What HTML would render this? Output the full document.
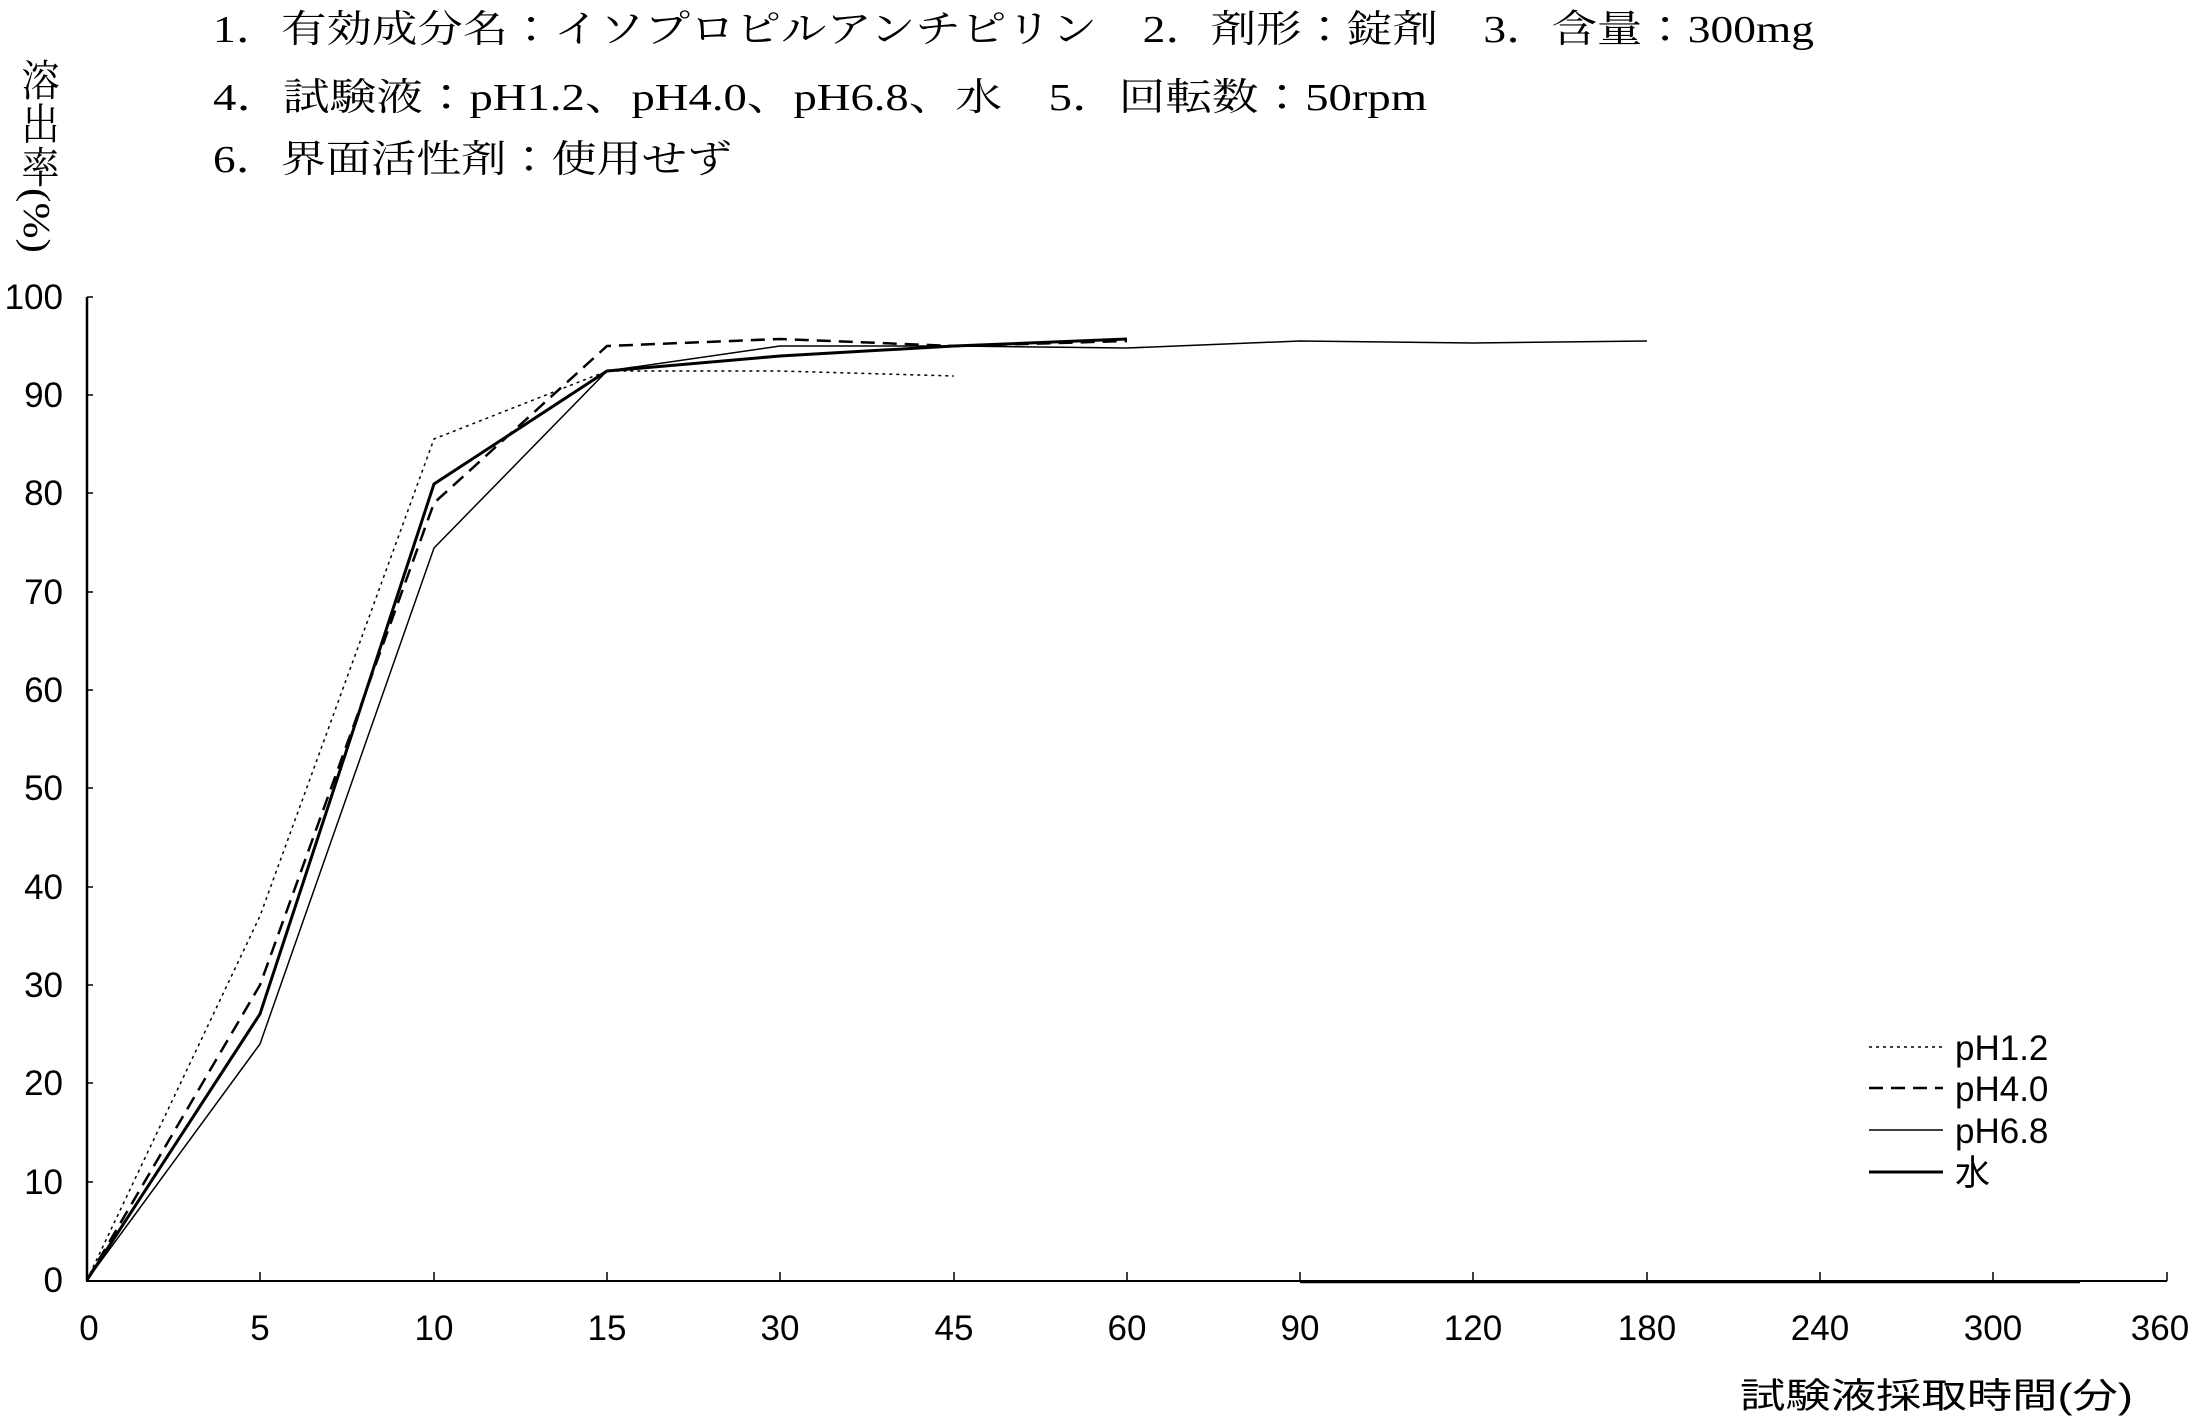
<!DOCTYPE html>
<html><head><meta charset="utf-8"><style>
html,body{margin:0;padding:0;background:#fff;}
svg{display:block;}
text{fill:#000;}
.s{font-family:"Liberation Serif","Noto Serif CJK JP","Noto Serif CJK SC",serif;font-size:38px;}
.a{font-family:"Liberation Sans","Noto Sans CJK JP",sans-serif;font-size:35px;}
</style></head><body>
<svg width="2200" height="1417" viewBox="0 0 2200 1417" xmlns="http://www.w3.org/2000/svg">
<text class="s" x="213" y="42" textLength="1601" lengthAdjust="spacingAndGlyphs">1．有効成分名：イソプロピルアンチピリン　2．剤形：錠剤　3．含量：300mg</text>
<text class="s" x="213" y="110" textLength="1214" lengthAdjust="spacingAndGlyphs">4．試験液：pH1.2、pH4.0、pH6.8、水　5．回転数：50rpm</text>
<text class="s" x="213" y="172" textLength="519" lengthAdjust="spacingAndGlyphs">6．界面活性剤：使用せず</text>
<text class="s" x="36" y="58" style="writing-mode:tb;glyph-orientation-vertical:0" textLength="195" lengthAdjust="spacingAndGlyphs">溶出率(%)</text>
<g stroke="#000" fill="none">
<line x1="87" y1="297" x2="87" y2="1281" stroke-width="2.5"/>
<line x1="86" y1="1281" x2="2167" y2="1281" stroke-width="2"/>
<line x1="1300" y1="1282" x2="2080" y2="1282" stroke-width="2.5"/>
<g stroke-width="1.5">
<line x1="87" y1="297" x2="93" y2="297"/><line x1="87" y1="395" x2="93" y2="395"/><line x1="87" y1="493" x2="93" y2="493"/><line x1="87" y1="592" x2="93" y2="592"/><line x1="87" y1="690" x2="93" y2="690"/><line x1="87" y1="788" x2="93" y2="788"/><line x1="87" y1="887" x2="93" y2="887"/><line x1="87" y1="985" x2="93" y2="985"/><line x1="87" y1="1083" x2="93" y2="1083"/><line x1="87" y1="1182" x2="93" y2="1182"/>
<line x1="260" y1="1281" x2="260" y2="1272"/><line x1="434" y1="1281" x2="434" y2="1272"/><line x1="607" y1="1281" x2="607" y2="1272"/><line x1="780" y1="1281" x2="780" y2="1272"/><line x1="954" y1="1281" x2="954" y2="1272"/><line x1="1127" y1="1281" x2="1127" y2="1272"/><line x1="1300" y1="1281" x2="1300" y2="1272"/><line x1="1473" y1="1281" x2="1473" y2="1272"/><line x1="1647" y1="1281" x2="1647" y2="1272"/><line x1="1820" y1="1281" x2="1820" y2="1272"/><line x1="1993" y1="1281" x2="1993" y2="1272"/><line x1="2167" y1="1281" x2="2167" y2="1272"/>
</g>
<!-- pH1.2 dotted -->
<polyline stroke-width="1.5" stroke-dasharray="3,4" points="87,1280 260,916 434,439 607,371 780,371 954,376"/>
<!-- pH4.0 dashed -->
<polyline stroke-width="2.5" stroke-dasharray="14,8" points="87,1280 260,985 434,503 607,346 780,339 954,346 1127,341"/>
<!-- pH6.8 thin -->
<polyline stroke-width="1.5" points="87,1280 260,1044 434,548 607,371 780,346 954,346 1127,348 1300,341 1473,343 1647,341"/>
<!-- water thick -->
<polyline stroke-width="3" points="87,1280 260,1014 434,484 607,371 780,356 954,346 1127,339"/>
<!-- legend -->
<line x1="1869" y1="1047" x2="1943" y2="1047" stroke-width="1.5" stroke-dasharray="3,4"/>
<line x1="1869" y1="1088" x2="1943" y2="1088" stroke-width="2.5" stroke-dasharray="14,8"/>
<line x1="1869" y1="1130" x2="1943" y2="1130" stroke-width="1.5"/>
<line x1="1869" y1="1172" x2="1943" y2="1172" stroke-width="3"/>
</g>
<g class="a">
<text x="1955" y="1060">pH1.2</text>
<text x="1955" y="1101">pH4.0</text>
<text x="1955" y="1143">pH6.8</text>
<text x="1955" y="1185">水</text>
</g>
<g class="a" text-anchor="end">
<text x="63" y="309">100</text><text x="63" y="407">90</text><text x="63" y="505">80</text><text x="63" y="604">70</text><text x="63" y="702">60</text><text x="63" y="800">50</text><text x="63" y="899">40</text><text x="63" y="997">30</text><text x="63" y="1095">20</text><text x="63" y="1194">10</text><text x="63" y="1292">0</text>
</g>
<g class="a" text-anchor="middle">
<text x="89" y="1340">0</text><text x="260" y="1340">5</text><text x="434" y="1340">10</text><text x="607" y="1340">15</text><text x="780" y="1340">30</text><text x="954" y="1340">45</text><text x="1127" y="1340">60</text><text x="1300" y="1340">90</text><text x="1473" y="1340">120</text><text x="1647" y="1340">180</text><text x="1820" y="1340">240</text><text x="1993" y="1340">300</text><text x="2160" y="1340">360</text>
</g>
<text class="a" x="1740" y="1408" textLength="393" lengthAdjust="spacingAndGlyphs">試験液採取時間(分)</text>
</svg>
</body></html>
